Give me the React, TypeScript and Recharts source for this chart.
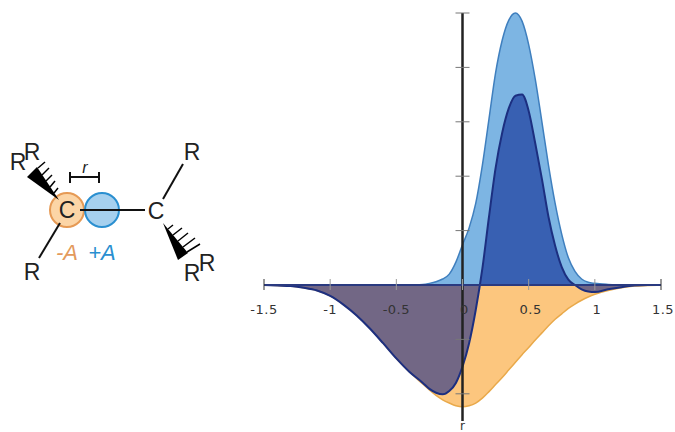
import { Area, ComposedChart, ReferenceLine, XAxis, YAxis } from "recharts";

const rValues = [
  -1.5, -1.4, -1.3, -1.2, -1.1, -1, -0.9, -0.8, -0.7, -0.6, -0.5, -0.4, -0.3, -0.25, -0.2, -0.15, -0.1, -0.05, 0, 0.05,
  0.1, 0.15, 0.2, 0.25, 0.3, 0.35, 0.4, 0.45, 0.5, 0.55, 0.6, 0.65, 0.7, 0.75, 0.8, 0.85, 0.9, 0.95, 1, 1.1, 1.2, 1.3,
  1.4, 1.5,
];
const plusA = [
  0, 0, 0, 0, 0, 0, 0, 0, 0, 0, 0, 0, 0.01, 0.03, 0.06, 0.11, 0.2, 0.42, 0.74, 1.05,
  1.5, 2.2, 3.05, 3.9, 4.5, 4.87, 5, 4.85, 4.42, 3.78, 3.0, 2.2, 1.5, 0.93, 0.5, 0.25, 0.11, 0.05, 0.03, 0.01, 0, 0,
  0, 0,
];
const minusA = [
  0, -0.01, -0.02, -0.05, -0.1, -0.2, -0.36, -0.56, -0.8, -1.07, -1.35, -1.6, -1.82, -1.93, -2.03, -2.11, -2.17, -2.22, -2.24, -2.22,
  -2.17, -2.08, -1.96, -1.83, -1.7, -1.56, -1.42, -1.28, -1.15, -1.01, -0.88, -0.75, -0.63, -0.53, -0.43, -0.35, -0.28, -0.22, -0.17, -0.1, -0.05, -0.02,
  -0.01, 0,
];
const total = [
  0, -0.01, -0.02, -0.05, -0.1, -0.2, -0.36, -0.56, -0.8, -1.07, -1.35, -1.6, -1.8, -1.91, -1.98, -2.01, -1.95, -1.8, -1.5, -1.07,
  -0.46, 0.3, 1.25, 2.15, 2.8, 3.25, 3.48, 3.5, 3.2, 2.6, 1.95, 1.25, 0.72, 0.33, 0.1, 0, -0.08, -0.12, -0.13, -0.08, -0.04, -0.01,
  0, 0,
];
const xTicks = [-1.5, -1, -0.5, 0, 0.5, 1, 1.5];
const yTicks = [-2, -1, 1, 2, 3, 4, 5];

const data = rValues.map((r, i) => ({ r, plus: plusA[i], minus: minusA[i], sum: total[i] }));

const ZERO_X = 462.5;
const ZERO_Y = 285;

const XTick = ({ x, payload }: any) => {
  const end = Math.abs(payload.value) === 1.5;
  return (
    <g>
      <line x1={x} x2={x} y1={ZERO_Y - 6} y2={ZERO_Y + 5} stroke={end ? "#333" : "#999"} strokeWidth={1} />
      <text
        x={payload.value >= 0 ? x + 2 : x}
        y={ZERO_Y + 29}
        textAnchor="middle"
        fontSize={13}
        fontFamily="DejaVu Sans"
        letterSpacing={0.5}
        fill="#333"
      >
        {payload.value}
      </text>
    </g>
  );
};

const YTick = ({ y }: any) => (
  <line x1={ZERO_X - 7} x2={ZERO_X + 7} y1={y} y2={y} stroke="#777" strokeWidth={1} />
);

const Molecule = () => (
  <svg width={240} height={300} style={{ position: "absolute", left: 0, top: 0 }}>
    <circle cx={67} cy={210} r={17} fill="#fcd5a6" stroke="#e69a55" strokeWidth={2} />
    <circle cx={102} cy={210} r={17} fill="#a6d0ee" stroke="#2a8fd0" strokeWidth={2} />
    <g stroke="#111" strokeWidth={2}>
      <line x1={80} y1={210} x2={145} y2={210} />
      <line x1={60} y1={223} x2={39} y2={258} />
      <line x1={163} y1={199} x2={183} y2={164} />
      <line x1={70} y1={177} x2={99} y2={177} />
      <line x1={70} y1={172} x2={70} y2={183} />
      <line x1={99} y1={172} x2={99} y2={183} />
    </g>
    <polygon points="59,200 27,177 37,167" fill="#000" />
    <g stroke="#000" strokeWidth={1.5}>
      <line x1={38} y1={168} x2={45} y2={162} />
      <line x1={42} y1={175} x2={49} y2={168} />
      <line x1={46} y1={181} x2={52} y2={175} />
      <line x1={50} y1={187} x2={55} y2={181} />
      <line x1={54} y1={193} x2={58} y2={188} />
    </g>
    <polygon points="163,223 178,260 188,253" fill="#000" />
    <g stroke="#000" strokeWidth={1.5}>
      <line x1={168} y1={229} x2={173} y2={225} />
      <line x1={173} y1={235} x2={182} y2={228} />
      <line x1={178} y1={241} x2={188} y2={233} />
      <line x1={183} y1={247} x2={195} y2={238} />
      <line x1={187} y1={252} x2={200} y2={244} />
    </g>
    <g fontFamily="Liberation Sans" fontSize={23} fill="#222" textAnchor="middle">
      <text x={67} y={218}>C</text>
      <text x={156} y={219}>C</text>
      <text x={18} y={170}>R</text>
      <text x={32} y={160}>R</text>
      <text x={32} y={280}>R</text>
      <text x={192} y={160}>R</text>
      <text x={192} y={281}>R</text>
      <text x={207} y={271}>R</text>
    </g>
    <g fontFamily="Liberation Sans" fontSize={22} fontStyle="italic" textAnchor="middle">
      <text x={67} y={260} fill="#e39a5c">-A</text>
      <text x={102} y={260} fill="#2a8fd0">+A</text>
      <text x={85} y={173} fontSize={16} fill="#222">r</text>
    </g>
  </svg>
);

export default function App() {
  return (
    <div style={{ position: "absolute", left: 0, top: 0, width: 675, height: 432, background: "#fff", overflow: "hidden" }}>
      <Molecule />
      <ComposedChart
        width={675}
        height={432}
        data={data}
        margin={{ left: 263, right: 14, top: 13, bottom: 10 }}
        style={{ position: "absolute", left: 0, top: 0 }}
      >
        <XAxis
          dataKey="r"
          type="number"
          domain={[-1.5, 1.5]}
          ticks={xTicks}
          height={1}
          axisLine={false}
          tickLine={false}
          interval={0}
          tick={<XTick />}
        />
        <YAxis
          type="number"
          domain={[-2.5, 5]}
          ticks={yTicks}
          width={1}
          axisLine={false}
          tickLine={false}
          interval={0}
          tick={<YTick />}
        />
        <ReferenceLine x={0} stroke="#222" strokeWidth={2.5} />
        <Area
          dataKey="minus"
          type="monotone"
          fill="#fcc67e"
          fillOpacity={1}
          stroke="#e9a94a"
          strokeWidth={1.5}
          dot={false}
          isAnimationActive={false}
        />
        <Area
          dataKey="plus"
          type="monotone"
          fill="#7db5e3"
          fillOpacity={1}
          stroke="#3f7fbe"
          strokeWidth={1.5}
          dot={false}
          isAnimationActive={false}
        />
        <ReferenceLine y={0} stroke="#2a3a80" strokeWidth={2} />
        <Area
          dataKey="sum"
          type="monotone"
          fill="#001a8a"
          fillOpacity={0.55}
          stroke="#1c2f80"
          strokeWidth={2}
          dot={false}
          isAnimationActive={false}
        />
      </ComposedChart>
      <div
        style={{
          position: "absolute",
          left: 460,
          top: 420,
          fontFamily: "DejaVu Sans",
          fontSize: 12,
          lineHeight: "12px",
          color: "#333",
        }}
      >
        r
      </div>
    </div>
  );
}
